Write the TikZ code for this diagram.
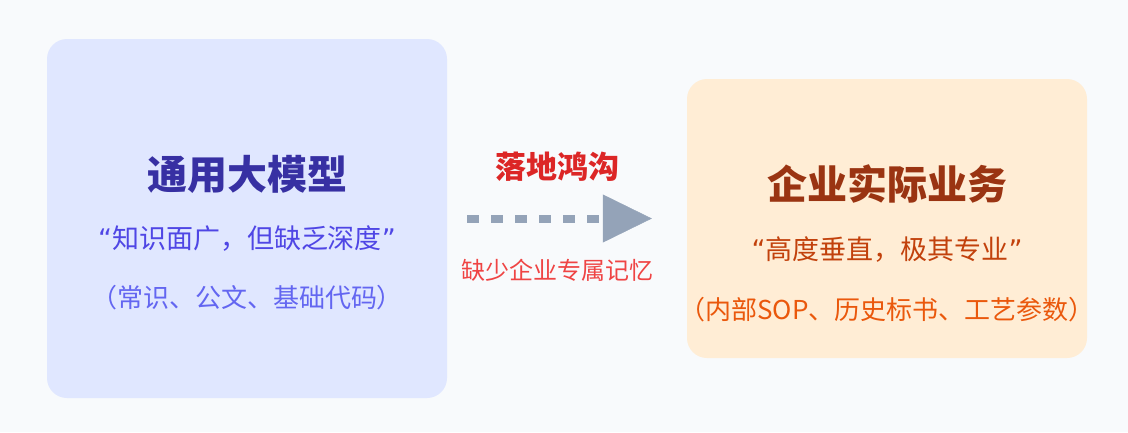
\documentclass[tikz,border=0pt]{standalone}
\usepackage{fontspec}
\setmainfont{Noto Sans CJK SC}
\newfontfamily\narrowquotes{DejaVu Sans}
\newcommand{\openq}{{\narrowquotes “}}
\newcommand{\closeq}{{\narrowquotes ”}}
\usetikzlibrary{arrows.meta, positioning}
\definecolor{pagebg}{HTML}{F8FAFC}
\definecolor{genfill}{HTML}{E0E7FF}
\definecolor{gentitle}{HTML}{3730A3}
\definecolor{genquote}{HTML}{4F46E5}
\definecolor{gendetail}{HTML}{6366F1}
\definecolor{bizfill}{HTML}{FFEDD5}
\definecolor{biztitle}{HTML}{9A3412}
\definecolor{bizquote}{HTML}{C2410C}
\definecolor{bizdetail}{HTML}{EA580C}
\definecolor{gapred}{HTML}{DC2626}
\definecolor{gapnote}{HTML}{EF4444}
\definecolor{gapline}{HTML}{94A3B8}
\tikzstyle{panel} = [rectangle, rounded corners=20pt, minimum width=400pt, minimum height=359pt, draw=none]
\tikzstyle{paneltitle} = [font=\bfseries\fontsize{40}{44}\selectfont, inner sep=0pt]
\tikzstyle{panelquote} = [font=\fontsize{27}{31}\selectfont, inner sep=0pt]
\tikzstyle{paneldetail} = [font=\fontsize{26}{30}\selectfont, inner sep=0pt]
\tikzstyle{gaparrow} = [line width=8pt, draw=gapline, dash pattern=on 12pt off 12pt, -{Triangle[length=49pt, width=48pt, line width=0.5pt]}]

\begin{document}
\begin{tikzpicture}[x=1pt, y=-1pt]
\fill[pagebg] (0,0) rectangle (1128,432);
\useasboundingbox (0,0) rectangle (1128,432);

% two panels
\node (general) [panel, fill=genfill] at (247,218.5) {};
\node (business) [panel, fill=bizfill, minimum height=279pt] at (887,218.5) {};

\node (generalTitle) [paneltitle, text=gentitle] at (247,174) {通用大模型};
\node (generalQuote) [panelquote, text=genquote] at (247,239) {\openq 知识面广，但缺乏深度\closeq};
\node (generalDetail) [paneldetail, text=gendetail] at (247,298) {（常识、公文、基础代码）};

\node (businessTitle) [paneltitle, text=biztitle] at (887,184) {企业实际业务};
\node (businessQuote) [panelquote, text=bizquote] at (887,250) {\openq 高度垂直，极其专业\closeq};
\node (businessDetail) [paneldetail, text=bizdetail] at (887,310) {（内部SOP、历史标书、工艺参数）};

% the gap between them
\draw [gaparrow, shorten <=20pt, shorten >=35pt] (general) -- (business);
\node (gapTitle) [font=\bfseries\fontsize{31}{35}\selectfont, text=gapred, inner sep=0pt] at (557,167) {落地鸿沟};
\node (gapNote) [font=\fontsize{24}{28}\selectfont, text=gapnote, inner sep=0pt] at (557,270) {缺少企业专属记忆};
\end{tikzpicture}
\end{document}
